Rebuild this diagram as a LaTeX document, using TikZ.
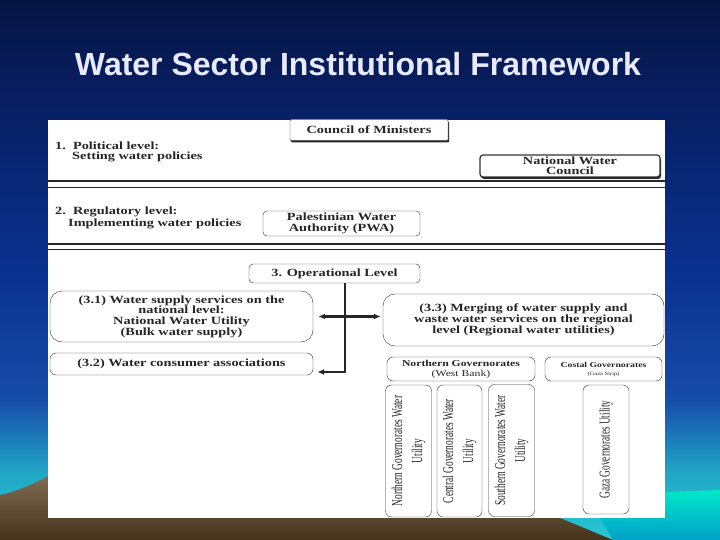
\documentclass[tikz,border=0pt]{standalone}
\usepackage{fontspec}
\setmainfont[FakeStretch=1.3]{Liberation Serif}
\newfontfamily\titlefont{Liberation Sans}
\newfontfamily\narrowfont[FakeStretch=0.62]{Liberation Serif}
\usetikzlibrary{arrows.meta,positioning,shadows}
\definecolor{groundtop}{RGB}{128,108,82}
\definecolor{groundbot}{RGB}{68,50,26}
\definecolor{seatop}{RGB}{0,232,200}
\definecolor{seabot}{RGB}{0,160,200}
\definecolor{titletext}{RGB}{232,234,255}
\pgfdeclareverticalshading{slideshade}{100bp}{rgb(0bp)=(0.16,0.78,0.82); rgb(25bp)=(0.16,0.78,0.82); rgb(31bp)=(0.13,0.66,0.78); rgb(38bp)=(0.09,0.30,0.66); rgb(50bp)=(0.04,0.19,0.56); rgb(66bp)=(0.03,0.12,0.38); rgb(75bp)=(0.02,0.08,0.26); rgb(100bp)=(0.02,0.08,0.26)}

\begin{document}
\begin{tikzpicture}[
    x=1pt, y=-1pt,
    >={Latex[length=7pt,width=6pt]},
    scanbox/.style={draw=black!80, fill=white, rounded corners=4pt, align=center, inner sep=0pt, text=black!85, font=\bfseries\fontsize{11}{10.7}\selectfont},
    headbox/.style={scanbox, rounded corners=1pt, drop shadow={shadow xshift=1pt, shadow yshift=-2pt, fill=black!85, opacity=1}},
    levelnote/.style={anchor=west, inner sep=0pt, text=black!85, font=\bfseries\fontsize{11}{12}\selectfont},
    utilbox/.style={draw=black!80, rounded corners=6pt, rotate=90, align=center, inner sep=0pt, minimum width=#1, minimum height=46pt, text=black!85, font=\narrowfont\fontsize{15}{20}\selectfont},
    utilbox/.default=132pt,
    link/.style={line width=2.2pt, black!85},
    rule/.style={black!85}
]
\useasboundingbox (0,0) rectangle (720,540);
% slide background
\shade[shading=slideshade] (0,0) rectangle (720,540);
\shade[top color=groundtop, bottom color=groundbot] (0,495) .. controls (18,491) and (34,484) .. (50,475) -- (560,475) -- (560,518) -- (613,540) -- (0,540) -- cycle;
\shade[top color=seatop, bottom color=seabot] (665,518) -- (665,492) -- (720,490) -- (720,540) -- (613,540) -- (600,518) -- cycle;
\fill[white] (48,120) rectangle (665,518);

\node[font=\titlefont\bfseries\fontsize{32}{36}\selectfont, text=titletext] (title) at (358,64) {Water Sector Institutional Framework};

% 1. political level
\node[headbox, minimum width=158pt, minimum height=21pt] (council) at (369,130) {Council of Ministers};
\node[levelnote] (lvl1) at (55,146) {1.\ \ Political level:};
\node[levelnote] (lvl1b) at (72,157) {Setting water policies};
\node[headbox, line width=1.2pt, rounded corners=3pt, minimum width=180pt, minimum height=22pt, font=\bfseries\fontsize{11}{10}\selectfont] (nwc) at (570,166) {National Water\\Council};
\draw[rule, line width=1.6pt] (48,181) -- (665,181);
\draw[rule, line width=0.8pt] (48,187) -- (665,187);

% 2. regulatory level
\node[levelnote] (lvl2) at (55,212) {2.\ \ Regulatory level:};
\node[levelnote] (lvl2b) at (68,224) {Implementing water policies};
\node[scanbox, minimum width=157pt, minimum height=25pt] (pwa) at (341.5,223.5) {Palestinian Water\\Authority (PWA)};
\draw[rule, line width=1.6pt] (48,244) -- (665,244);
\draw[rule, line width=0.8pt] (48,249) -- (665,249);

% 3. operational level
\node[scanbox, minimum width=171pt, minimum height=19pt] (op) at (334.5,273.5) {3. Operational Level};
\node[scanbox, rounded corners=12pt, minimum width=263pt, minimum height=51pt] (q1) at (181.5,316.5) {(3.1) Water supply services on the\\national level:\\National Water Utility\\(Bulk water supply)};
\node[scanbox, rounded corners=12pt, minimum width=281pt, minimum height=52pt] (q3) at (523.5,320) {(3.3) Merging of water supply and\\waste water services on the regional\\level (Regional water utilities)};
\node[scanbox, rounded corners=6pt, minimum width=263pt, minimum height=22pt] (q2) at (181.5,364) {(3.2) Water consumer associations};

\coordinate (trunk) at (345,316);
\draw[link, ->] (op.south -| trunk) |- ([xshift=4pt,yshift=-8pt]q2.east);
\draw[link, <->] ([xshift=5pt]q1.east) -- ([xshift=-2pt]q1.east -| q3.west);

% governorates
\node[scanbox, rounded corners=6pt, minimum width=148pt, minimum height=24pt, font=\fontsize{9}{10}\selectfont] (north) at (461,369) {\textbf{Northern Governorates}\\(West Bank)};
\node[scanbox, rounded corners=6pt, minimum width=117pt, minimum height=24pt, font=\fontsize{7.5}{8}\selectfont] (coast) at (603.5,369) {\textbf{Costal Governorates}\\{\fontsize{5}{6}\selectfont(Gaza Strip)}};

\node[utilbox] (nwu) at (408.5,451) {Northern Governorates Water\\Utility};
\node[utilbox, minimum height=45pt] (cwu) at (459.5,451) {Central Governorates Water\\Utility};
\node[utilbox] (swu) at (511.5,450.5) {Southern Governorates Water\\Utility};
\node[utilbox=129pt] (gwu) at (606,449.5) {Gaza Governorates Utility};
\end{tikzpicture}
\end{document}
